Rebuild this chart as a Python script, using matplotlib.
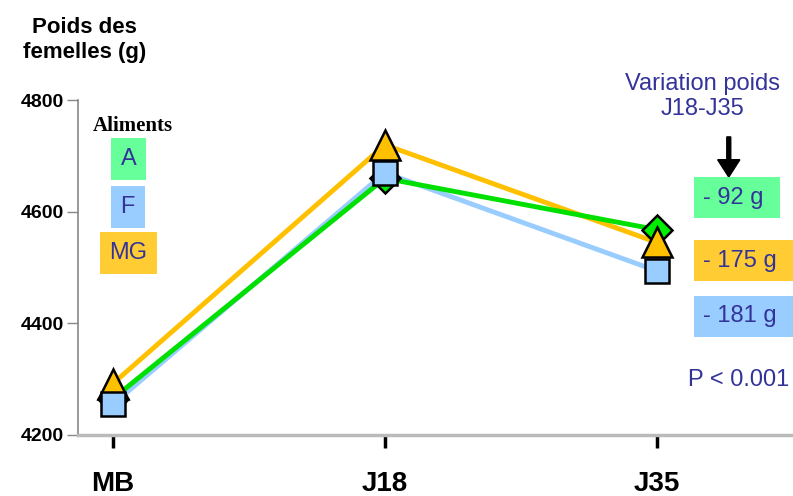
import matplotlib.pyplot as plt
from matplotlib.patches import FancyArrow

plt.rcParams["font.family"] = ["Liberation Sans", "DejaVu Sans"]

days = ["MB", "J18", "J35"]
poids_a = [4265, 4660, 4568]
poids_f = [4255, 4670, 4494]
poids_mg = [4292, 4720, 4545]
yticks = [4200, 4400, 4600, 4800]
variations = ["- 92 g", "- 175 g", "- 181 g"]

GREEN = "#00e000"
GOLD = "#ffc000"
BLUE = "#99ccff"
NAVY = "#333399"

fig = plt.figure(figsize=(7.93, 4.96), dpi=100)
ax = fig.add_axes([0.098, 0.123, 0.902, 0.675])

x = range(len(days))
ax.plot(x, poids_a, color=GREEN, lw=3.5, zorder=2)
ax.plot(x, poids_mg, color=GOLD, lw=3.5, zorder=1)
ax.plot(x, poids_f, color=BLUE, lw=3.5, zorder=1.5)
ax.plot(x, poids_a, ls="none", marker="D", ms=15, mfc="#00ee00", mec="black", mew=1.8, zorder=3)
ax.plot(x, poids_mg, ls="none", marker="^", ms=21, mfc="#ffc000", mec="black", mew=1.8, zorder=4)
ax.plot(x, poids_f, ls="none", marker="s", ms=17, mfc="#99ccff", mec="black", mew=1.8, zorder=5)

ax.set_xlim(-0.129, 2.5)
ax.set_ylim(4200, 4800)
ax.set_xticks(list(x))
ax.set_xticklabels(days, fontsize=20, fontweight="bold")
ax.set_yticks(yticks)
ax.set_yticklabels([str(v) for v in yticks], fontsize=14, fontweight="bold")
ax.tick_params(axis="x", length=9, width=2.5, color="black", pad=17)
ax.tick_params(axis="y", length=8, width=1, color="#888888", pad=2)
for s in ["top", "right"]:
    ax.spines[s].set_visible(False)
ax.spines["left"].set_color("#888888")
ax.spines["left"].set_linewidth(1.2)
ax.spines["bottom"].set_color("#bbbbbb")
ax.spines["bottom"].set_linewidth(2.5)

fig.text(0.107, 0.919, "Poids des\nfemelles (g)", ha="center", va="center",
         fontsize=16, fontweight="bold", linespacing=1.25)

# legend boxes
fig.text(0.167, 0.745, "Aliments", ha="center", va="center", fontsize=15,
         fontweight="bold", family="Liberation Serif")
legend_items = [("A", "#66ff99", 0.162, 0.679), ("F", BLUE, 0.161, 0.582), ("MG", "#ffcc33", 0.162, 0.490)]
for lab, col, xx, yy in legend_items:
    fig.text(xx, yy, lab, ha="center", va="center", fontsize=17, color=NAVY,
             bbox=dict(boxstyle="square,pad=0.42", fc=col, ec="none"))

# variation annotations
fig.text(0.886, 0.805, "Variation poids\nJ18-J35", ha="center", va="center",
         fontsize=17, color=NAVY, linespacing=1.15)
fig.patches.append(FancyArrow(
    0.919, 0.724, 0, -0.081, width=0.005, head_width=0.028, head_length=0.035,
    color="black", transform=fig.transFigure, length_includes_head=True))
var_cols = ["#66ff99", "#ffcc33", BLUE]
var_y = [0.601, 0.474, 0.362]
for txt, col, yy in zip(variations, var_cols, var_y):
    fig.text(0.8865, yy, txt + " ", ha="left", va="center", fontsize=17, color=NAVY,
             bbox=dict(boxstyle="square,pad=0.4", fc=col, ec="none"))
fig.text(0.931, 0.234, "P < 0.001", ha="center", va="center", fontsize=17, color=NAVY)

fig.savefig("out.png", dpi=100)
